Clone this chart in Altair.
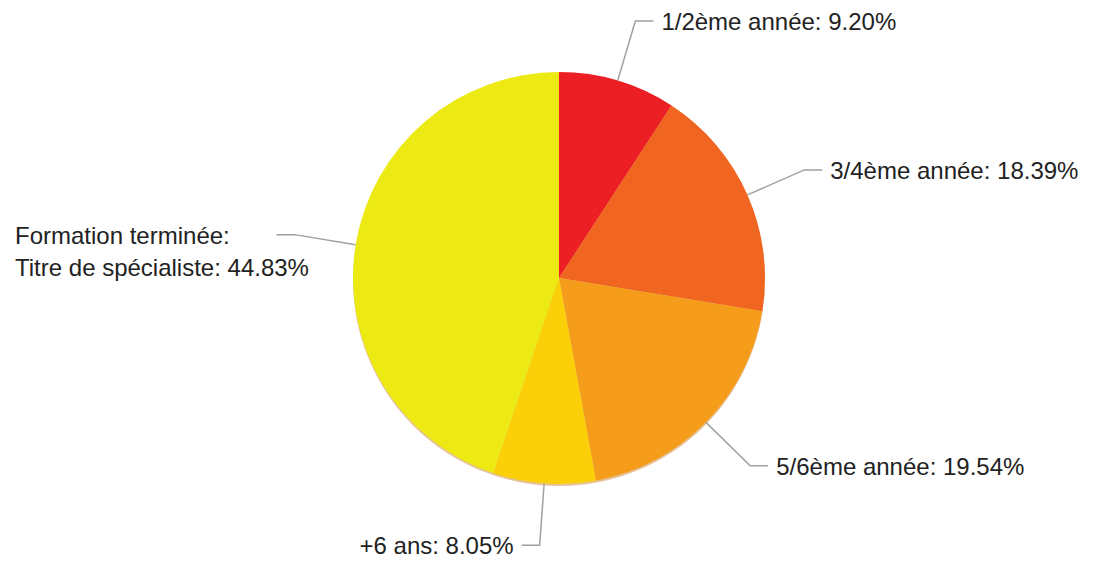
import altair as alt
import pandas as pd
import numpy as np

categories = ["1/2ème année", "3/4ème année", "5/6ème année", "+6 ans",
              "Formation terminée: Titre de spécialiste"]
shares = [9.20, 18.39, 19.54, 8.05, 44.83]
colors = ["#EC2024", "#F0651F", "#F59C1A", "#FCD008", "#EDE912"]

W, H = 1077, 552
CX, CY = 551, 270
R = 206
R_ELBOW = 268
ARM = 18
GAP = 8
FONT = 24
LINE_H = 32
LEFT_MARGIN = 7
TEXT_DY = 2

total = sum(shares)
slices = pd.DataFrame({
    "category": categories,
    "share": shares,
    "order": list(range(len(categories))),
    "cx": [CX] * len(categories),
    "cy": [CY] * len(categories),
})
shadow = pd.DataFrame({"cx": [CX], "cy": [CY + 2], "share": [total]})

line_rows, text_rows = [], []
cum = 0.0
for i, (cat, s) in enumerate(zip(categories, shares)):
    mid = (cum + s / 2) / total * 2 * np.pi
    cum += s
    sx, sy = np.sin(mid), -np.cos(mid)
    right = sx >= 0
    p0 = (CX + R * sx, CY + R * sy)
    p1 = (CX + R_ELBOW * sx, CY + R_ELBOW * sy)
    p2 = (p1[0] + (ARM if right else -ARM), p1[1])
    for k, (x, y) in enumerate([p0, p1, p2]):
        line_rows.append(dict(category=cat, k=k, x=x, y=y))
    label = f"{cat}: {s:.2f}%"
    est_w = 0.53 * FONT * len(label)
    ty = p2[1] + TEXT_DY
    if right:
        text_rows.append(dict(x=p2[0] + GAP, y=ty, text=label, align="left"))
    elif p2[0] - GAP - est_w >= 0:
        text_rows.append(dict(x=p2[0] - GAP, y=ty, text=label, align="right"))
    else:
        head, tail = label.split(": ", 1)
        for j, part in enumerate([head + ":", tail]):
            text_rows.append(dict(x=LEFT_MARGIN, y=ty + j * LINE_H, text=part, align="left"))

lines = pd.DataFrame(line_rows)
texts = pd.DataFrame(text_rows)

xs = alt.Scale(domain=[0, W], range=[0, W], nice=False, zero=False)
ys = alt.Scale(domain=[0, H], range=[0, H], nice=False, zero=False)

rim = alt.Chart(shadow).mark_arc(radius=R, color="#C8781E", opacity=0.45).encode(
    theta=alt.Theta("share:Q"),
    x=alt.X("cx:Q", scale=xs, axis=None),
    y=alt.Y("cy:Q", scale=ys, axis=None),
)

pie = alt.Chart(slices).mark_arc(radius=R).encode(
    theta=alt.Theta("share:Q", stack=True),
    color=alt.Color("category:N", scale=alt.Scale(domain=categories, range=colors), legend=None),
    order=alt.Order("order:Q"),
    x=alt.X("cx:Q", scale=xs, axis=None),
    y=alt.Y("cy:Q", scale=ys, axis=None),
)

connectors = alt.Chart(lines).mark_line(color="#a0a0a0", strokeWidth=1.5).encode(
    x=alt.X("x:Q", scale=xs, axis=None),
    y=alt.Y("y:Q", scale=ys, axis=None),
    detail="category:N",
    order="k:Q",
)

def text_layer(al):
    return alt.Chart(texts).transform_filter(alt.datum.align == al).mark_text(
        align=al, baseline="middle", font="Liberation Sans", fontSize=FONT, color="#222222"
    ).encode(
        x=alt.X("x:Q", scale=xs, axis=None),
        y=alt.Y("y:Q", scale=ys, axis=None),
        text="text:N",
    )

chart = alt.layer(rim, pie, connectors, text_layer("left"), text_layer("right")).properties(
    width=W, height=H, padding=0, autosize=alt.AutoSizeParams(type="none")
).configure_view(stroke=None)

chart.save("out.html", embed_options={"renderer": "svg", "actions": False})
